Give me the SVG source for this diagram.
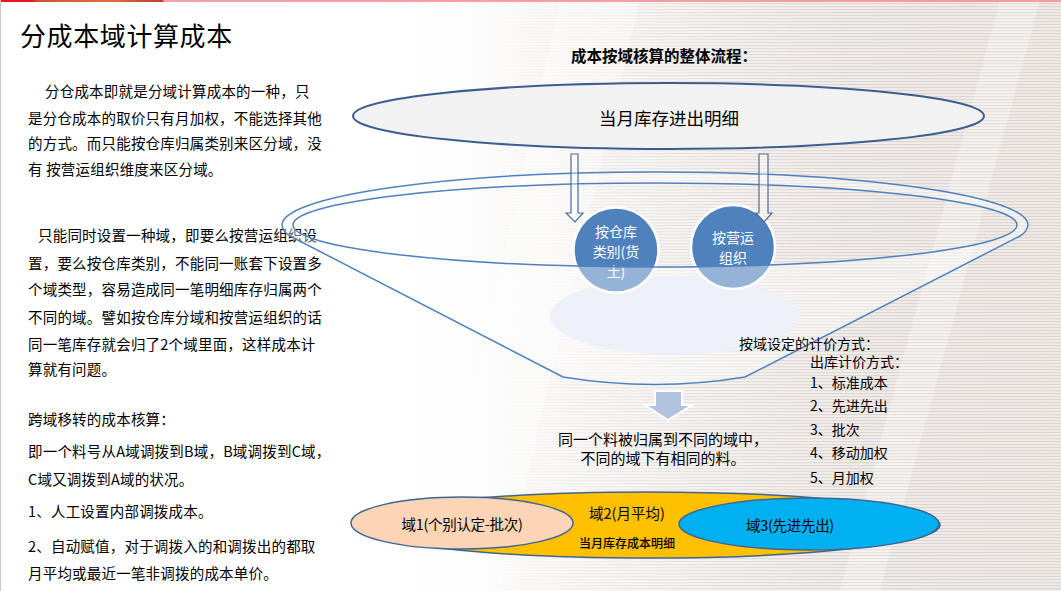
<svg xmlns="http://www.w3.org/2000/svg" width="1061" height="591" viewBox="0 0 1061 591">
<defs>
<style>
.t{font-family:"Noto Sans CJK SC","Noto Sans",sans-serif;fill:#000;dominant-baseline:central}
.b{font-size:14.5px;letter-spacing:0.2px}
.r{font-size:14px}
.w{fill:#fff;font-size:14px;text-anchor:middle}
.c{text-anchor:middle}
.rim{fill:none;stroke:#4f81bd;stroke-width:1.5}
.harrow{fill:#fff;fill-opacity:0.35;stroke:#4a6d9e;stroke-width:1.2}
.dom{stroke:#3f6494;stroke-width:1.5}
</style>
<linearGradient id="bg" x1="0" y1="0" x2="1" y2="0">
<stop offset="0.38" stop-color="#ffffff"/>
<stop offset="0.75" stop-color="#f2efed"/>
<stop offset="1" stop-color="#efebe8"/>
</linearGradient>
<linearGradient id="fade" x1="0" y1="0" x2="1" y2="0">
<stop offset="0.45" stop-color="#000"/>
<stop offset="0.8" stop-color="#fff"/>
</linearGradient>
<pattern id="stripes" width="8" height="3" patternUnits="userSpaceOnUse">
<rect width="8" height="1.2" fill="#ddd5d0"/>
</pattern>
<mask id="m"><rect width="1061" height="591" fill="url(#fade)"/></mask>
<linearGradient id="bar" x1="0" y1="0" x2="1" y2="0">
<stop offset="0" stop-color="#e8141e"/>
<stop offset="0.03" stop-color="#e8141e"/>
<stop offset="0.035" stop-color="#c8552e"/>
<stop offset="0.1" stop-color="#e0703c"/>
<stop offset="0.153" stop-color="#b9432d"/>
<stop offset="0.155" stop-color="#f4a0a8"/>
<stop offset="1" stop-color="#f49aa2"/>
</linearGradient>
</defs>

<g id="background">
<rect width="1061" height="591" fill="url(#bg)"/>
<rect width="1061" height="591" fill="url(#stripes)" mask="url(#m)"/>
<polygon points="430,591 560,0 640,0 500,591" fill="#fff" opacity="0.35"/>
<polygon points="840,591 1000,0 1040,0 880,591" fill="#fff" opacity="0.3"/>
<rect width="1061" height="2" fill="url(#bar)"/>
<rect x="0" y="0" width="1" height="591" fill="#c9c9c9"/>
</g>

<g id="left-text">
<text class="t" x="20" y="34" font-size="26" letter-spacing="0.6">分成本域计算成本</text>
<text class="t b" x="45" y="90">分仓成本即就是分域计算成本的一种，只</text>
<text class="t b" x="28" y="117">是分仓成本的取价只有月加权，不能选择其他</text>
<text class="t b" x="28" y="142">的方式。而只能按仓库归属类别来区分域，没</text>
<text class="t b" x="28" y="168">有 按营运组织维度来区分域。</text>
<text class="t b" x="38" y="234">只能同时设置一种域，即要么按营运组织设</text>
<text class="t b" x="28" y="262">置，要么按仓库类别，不能同一账套下设置多</text>
<text class="t b" x="28" y="288">个域类型，容易造成同一笔明细库存归属两个</text>
<text class="t b" x="28" y="316">不同的域。譬如按仓库分域和按营运组织的话</text>
<text class="t b" x="28" y="343">同一笔库存就会归了2个域里面，这样成本计</text>
<text class="t b" x="28" y="368">算就有问题。</text>
<text class="t b" x="28" y="418">跨域移转的成本核算：</text>
<text class="t b" x="28" y="450">即一个料号从A域调拨到B域，B域调拨到C域，</text>
<text class="t b" x="28" y="478">C域又调拨到A域的状况。</text>
<text class="t b" x="28" y="510">1、人工设置内部调拨成本。</text>
<text class="t b" x="28" y="545">2、自动赋值，对于调拨入的和调拨出的都取</text>
<text class="t b" x="28" y="572">月平均或最近一笔非调拨的成本单价。</text>
</g>

<text class="t c" x="664" y="55" font-size="15.5" font-weight="bold">成本按域核算的整体流程：</text>

<g id="shadow">
<ellipse cx="675" cy="316" rx="125" ry="39" fill="#e2e7f1"/>
</g>

<g id="node-warehouse">
<circle cx="616" cy="250" r="42.5" fill="#4f81bd" stroke="#fff" stroke-width="2.5"/>
<text class="t w" x="616" y="230.5">按仓库</text>
<text class="t w" x="616" y="250.5">类别(货</text>
<text class="t w" x="616" y="270.5">土)</text>
</g>

<g id="node-org">
<circle cx="733" cy="247" r="42" fill="#4f81bd" stroke="#fff" stroke-width="2.5"/>
<text class="t w" x="733" y="237">按营运</text>
<text class="t w" x="733" y="257">组织</text>
</g>

<g id="funnel">
<path d="M282,225 A373,53 0 0 1 1028,225 Q1027,232 1020,236 L745,377 Q655,392 563,377 L290,236 Q283,232 282,225 Z M293,225 A362,42 0 0 0 1017,225 A362,42 0 0 0 293,225 Z" fill="#fff" fill-opacity="0.4" fill-rule="evenodd" stroke="none"/>
<path class="rim" d="M282,225 A373,53 0 0 1 1028,225 Q1027,232 1020,236 L745,377 Q655,392 563,377 L290,236 Q283,232 282,225 Z"/>
<ellipse class="rim" cx="655" cy="225" rx="362" ry="42"/>
</g>

<g id="connectors">
<path class="harrow" d="M571,154 L578,154 L578,213 L583,213 L575,222 L566,213 L571,213 Z"/>
<path class="harrow" d="M759,154 L768,154 L768,213 L772,213 L764,222 L756,213 L759,213 Z"/>
<path d="M655,391 L682,391 L682,405 L692,405 L668,420 L645,405 L655,405 Z" fill="#b1c3df" stroke="#fff" stroke-width="2"/>
</g>

<g id="node-top">
<ellipse cx="668.5" cy="116" rx="315.5" ry="33" fill="#f2f2f2" stroke="#3b5e8f" stroke-width="2"/>
<text class="t c" x="669" y="117" font-size="17.5">当月库存进出明细</text>
</g>

<g id="caption">
<text class="t c" x="663" y="438" font-size="15">同一个料被归属到不同的域中，</text>
<text class="t c" x="663" y="457" font-size="15">不同的域下有相同的料。</text>
</g>

<g id="pricing">
<text class="t r" x="739" y="343">按域设定的计价方式：</text>
<text class="t r" x="810" y="361">出库计价方式：</text>
<text class="t r" x="810" y="382">1、标准成本</text>
<text class="t r" x="810" y="405">2、先进先出</text>
<text class="t r" x="810" y="429">3、批次</text>
<text class="t r" x="810" y="452">4、移动加权</text>
<text class="t r" x="810" y="477">5、月加权</text>
</g>

<g id="domain2">
<ellipse class="dom" cx="648" cy="525" rx="292" ry="33" fill="#ffc000"/>
<text class="t c" x="627" y="512" font-size="14.5">域2(月平均)</text>
<text class="t c" x="627" y="542" font-size="12" font-weight="500">当月库存成本明细</text>
</g>

<g id="domain1">
<ellipse class="dom" cx="462" cy="523" rx="111" ry="26" fill="#fbd5b5"/>
<text class="t c" x="462" y="523" font-size="14.5" letter-spacing="-0.3">域1(个别认定-批次)</text>
</g>

<g id="domain3">
<ellipse class="dom" cx="809" cy="524" rx="130" ry="26" fill="#00b0f0"/>
<text class="t c" x="790" y="524" font-size="14.5" letter-spacing="-0.3">域3(先进先出)</text>
</g>
</svg>
